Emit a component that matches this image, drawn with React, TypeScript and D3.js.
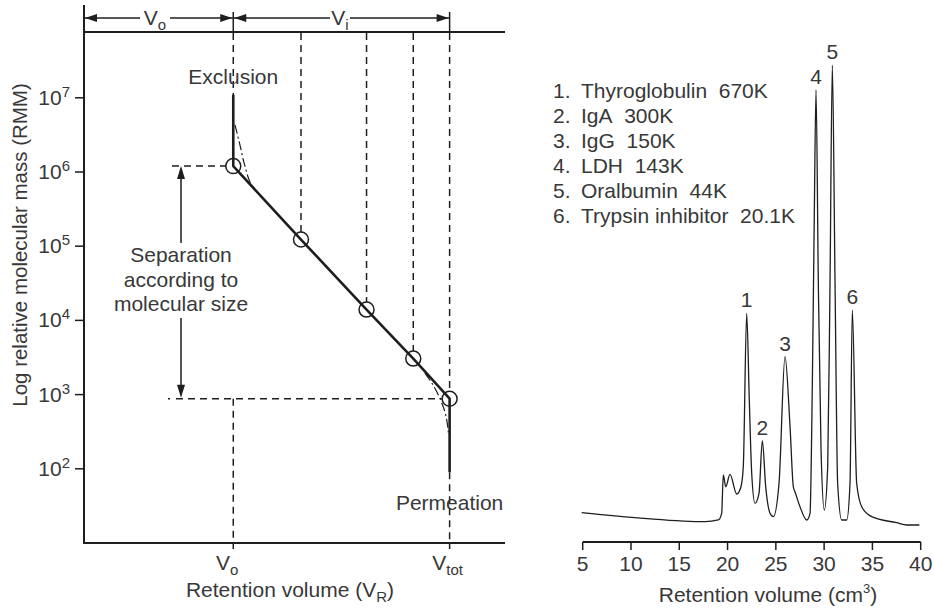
import * as d3 from "d3";

// ---- left panel: calibration curve (log RMM vs retention volume) ----
const massExponents = [2, 3, 4, 5, 6, 7];
// retention position as Kav: 0 = Vo, 1 = Vtot
const standardKav = [0, 0.313, 0.616, 0.832, 1.0];
const standardMass = [1.2e6, 1.23e5, 1.4e4, 3.06e3, 8.8e2];
const exclusionMass = 1.1e7;
const permeationMass = 90;
const upperBendKav = [0.008, 0.031, 0.054, 0.086, 0.14];
const upperBendMass = [4.3e6, 2.3e6, 1.2e6, 6.6e5, 4.3e5];
const lowerBendKav = [0.886, 0.923, 0.955, 0.979, 0.994];
const lowerBendMass = [1.95e3, 1.35e3, 890, 575, 310];
const separationText = ["Separation", "according to", "molecular size"];

// ---- right panel: chromatogram ----
const proteins = [
  "Thyroglobulin  670K",
  "IgA  300K",
  "IgG  150K",
  "LDH  143K",
  "Oralbumin  44K",
  "Trypsin inhibitor  20.1K",
];
const peakVolume = [21.98, 23.6, 25.95, 29.16, 30.85, 32.92];
const peakHeight = [46.1, 19.0, 36.9, 93.6, 98.9, 46.8];
const volumeTicks = [5, 10, 15, 20, 25, 30, 35, 40];
const traceVolume = [
  4.9, 11.28, 17.66, 19.04, 19.39, 19.56, 19.81, 20.25, 20.95, 21.39, 21.63,
  21.98, 22.25, 22.5, 22.84, 23.26, 23.6, 23.95, 24.4, 24.74, 25.33, 25.95,
  26.47, 26.81, 26.98, 27.5, 28.2, 28.54, 28.78, 28.98, 29.16, 29.4, 29.68,
  30.02, 30.37, 30.61, 30.85, 31.13, 31.4, 31.82, 32.34, 32.68, 32.92, 33.37,
  33.89, 34.93, 37.5, 38.55, 39.86,
];
const traceSignal = [
  3.7, 2.49, 1.77, 2.13, 3.55, 11.7, 9.2, 11.85, 7.66, 9.2, 13.5, 46.1, 27.7,
  12.06, 5.68, 7.87, 19.0, 9.2, 3.55, 2.83, 9.94, 36.9, 22.0, 9.2, 8.15, 4.96,
  2.13, 3.55, 31.2, 66.7, 93.6, 52.5, 17.0, 4.26, 13.5, 52.5, 98.9, 52.5, 9.94,
  2.13, 2.13, 9.94, 46.8, 9.94, 4.96, 2.83, 1.55, 1.06, 1.06,
];

const FONT = "'Liberation Sans', Arial, Helvetica, sans-serif";
const FS = 21;
const TEXT = "#383838";
const INK = "#1e1e1e";

// filled arrow head, tip at (x,y), pointing in direction dir
const arrowHead = (x: number, y: number, dir: "up" | "down" | "left" | "right", len = 12, half = 4) => {
  let pts: [number, number][] = [];
  if (dir === "left") pts = [[x, y], [x + len, y - half], [x + len, y + half]];
  if (dir === "right") pts = [[x, y], [x - len, y - half], [x - len, y + half]];
  if (dir === "up") pts = [[x, y], [x - half, y + len], [x + half, y + len]];
  if (dir === "down") pts = [[x, y], [x - half, y - len], [x + half, y - len]];
  return <polygon points={pts.map((p) => p.join(",")).join(" ")} fill={INK} />;
};

const LeftPanel = () => {
  const left = 84;
  const right = 505;
  const top = 32;
  const bottom = 543;

  const x = d3.scaleLinear().domain([-0.69, 1.256]).range([left, right]);
  const y = d3.scaleLog().domain([10, 7.7e7]).range([bottom, top]);

  const xo = x(0);
  const xt = x(1);
  const r = 7.5;
  const dash = "7 5";

  const line = d3
    .line<[number, number]>()
    .x((d) => x(d[0]))
    .y((d) => y(d[1]));
  const bend = d3
    .line<[number, number]>()
    .x((d) => x(d[0]))
    .y((d) => y(d[1]))
    .curve(d3.curveMonotoneY);

  const mainPts: [number, number][] = [
    [0, exclusionMass],
    ...standardKav.map((k, i) => [k, standardMass[i]] as [number, number]),
    [1, permeationMass],
  ];
  const upper = upperBendKav.map((k, i) => [k, upperBendMass[i]] as [number, number]);
  const lower = lowerBendKav.map((k, i) => [k, lowerBendMass[i]] as [number, number]);

  const yFirst = y(standardMass[0]);
  const yLast = y(standardMass[standardMass.length - 1]);
  const arrowX = 181;
  const bracketY = 18;

  return (
    <g fontFamily={FONT} fill={TEXT}>
      {/* frame */}
      <line x1={left} x2={left} y1={5} y2={bottom + 1} stroke={INK} strokeWidth={2} />
      <line x1={left} x2={right} y1={top} y2={top} stroke={INK} strokeWidth={2} />
      <line x1={left - 1} x2={right} y1={bottom} y2={bottom} stroke={INK} strokeWidth={2} />

      {/* y ticks */}
      {massExponents.map((e) => (
        <g key={e}>
          <line x1={left - 9} x2={left} y1={y(10 ** e)} y2={y(10 ** e)} stroke={INK} strokeWidth={1.5} />
          <text x={left - 14} y={y(10 ** e) + 7} textAnchor="end" fontSize={FS}>
            10<tspan fontSize={15} dy={-8}>{e}</tspan>
          </text>
        </g>
      ))}
      <text transform={`translate(27,${245}) rotate(-90)`} textAnchor="middle" fontSize={FS - 0.5}>
        Log relative molecular mass (RMM)
      </text>

      {/* x ticks */}
      {[xo, xt].map((v, i) => (
        <line key={i} x1={v} x2={v} y1={bottom} y2={bottom + 6} stroke={INK} strokeWidth={1.5} />
      ))}
      <text x={xo - 6} y={570} textAnchor="middle" fontSize={FS}>
        V<tspan fontSize={15} dy={5}>o</tspan>
      </text>
      <text x={xt - 2} y={570} textAnchor="middle" fontSize={FS}>
        V<tspan fontSize={15} dy={5}>tot</tspan>
      </text>
      <text x={290} y={597} textAnchor="middle" fontSize={FS}>
        Retention volume (V<tspan fontSize={15} dy={5}>R</tspan>
        <tspan dy={-5}>)</tspan>
      </text>

      {/* top bracket: Vo and Vi */}
      <line x1={xo} x2={xo} y1={12} y2={top} stroke={INK} strokeWidth={1.5} />
      <line x1={xt} x2={xt} y1={12} y2={top} stroke={INK} strokeWidth={1.5} />
      <line x1={left} x2={140} y1={bracketY} y2={bracketY} stroke={INK} strokeWidth={1.3} />
      <line x1={170} x2={xo} y1={bracketY} y2={bracketY} stroke={INK} strokeWidth={1.3} />
      {arrowHead(left + 1, bracketY, "left")}
      {arrowHead(xo - 1, bracketY, "right")}
      <text x={155} y={bracketY + 7} textAnchor="middle" fontSize={FS}>
        V<tspan fontSize={15} dy={5}>o</tspan>
      </text>
      <line x1={xo} x2={330} y1={bracketY} y2={bracketY} stroke={INK} strokeWidth={1.3} />
      <line x1={350} x2={xt} y1={bracketY} y2={bracketY} stroke={INK} strokeWidth={1.3} />
      {arrowHead(xo + 1, bracketY, "left")}
      {arrowHead(xt - 1, bracketY, "right")}
      <text x={340} y={bracketY + 7} textAnchor="middle" fontSize={FS}>
        V<tspan fontSize={15} dy={5}>i</tspan>
      </text>

      {/* dashed drop lines from each standard */}
      {standardKav.map((k, i) => (
        <line
          key={i}
          x1={x(k)}
          x2={x(k)}
          y1={top + 1}
          y2={y(standardMass[i]) - r}
          stroke={INK}
          strokeWidth={1.5}
          strokeDasharray={dash}
        />
      ))}
      <line x1={xo} x2={xo} y1={yLast} y2={bottom} stroke={INK} strokeWidth={1.5} strokeDasharray={dash} />
      <line x1={xt} x2={xt} y1={y(permeationMass)} y2={bottom} stroke={INK} strokeWidth={1.5} strokeDasharray={dash} />
      <line x1={172} x2={xo - r} y1={yFirst} y2={yFirst} stroke={INK} strokeWidth={1.5} strokeDasharray={dash} />
      <line x1={168} x2={170} y1={yLast} y2={yLast} stroke={INK} strokeWidth={1.5} />
      <line x1={176} x2={xt - r} y1={yLast} y2={yLast} stroke={INK} strokeWidth={1.5} strokeDasharray={dash} />

      {/* separation arrow */}
      <line x1={arrowX} x2={arrowX} y1={yFirst + 8} y2={243} stroke={INK} strokeWidth={1.5} />
      <line x1={arrowX} x2={arrowX} y1={318} y2={yLast - 8} stroke={INK} strokeWidth={1.5} />
      {arrowHead(arrowX, yFirst, "up", 13, 4)}
      {arrowHead(arrowX, yLast - 1, "down", 13, 4)}
      {separationText.map((t, i) => (
        <text key={t} x={arrowX} y={262 + i * 24.5} textAnchor="middle" fontSize={FS}>
          {t}
        </text>
      ))}

      {/* calibration curve */}
      <path d={bend(upper) ?? ""} fill="none" stroke={INK} strokeWidth={1.2} strokeDasharray="9 3 2 3" />
      <path d={bend(lower) ?? ""} fill="none" stroke={INK} strokeWidth={1.2} strokeDasharray="9 3 2 3" />
      <path d={line(mainPts) ?? ""} fill="none" stroke={INK} strokeWidth={2.6} strokeLinejoin="round" />
      {standardKav.map((k, i) => (
        <circle key={i} cx={x(k)} cy={y(standardMass[i])} r={r} fill="none" stroke={INK} strokeWidth={1.5} />
      ))}

      <text x={xo} y={84} textAnchor="middle" fontSize={FS}>
        Exclusion
      </text>
      <text x={xt} y={510} textAnchor="middle" fontSize={FS}>
        Permeation
      </text>
    </g>
  );
};

const RightPanel = () => {
  const x = d3.scaleLinear().domain([5, 40]).range([582.7, 920.7]);
  const y = d3.scaleLinear().domain([0, 100]).range([530, 60]);
  const axisY = 542;

  const trace = d3
    .line<number>()
    .x((d, i) => x(traceVolume[i]))
    .y((d) => y(d))
    .curve(d3.curveMonotoneX);

  return (
    <g fontFamily={FONT} fill={TEXT}>
      {proteins.map((p, i) => (
        <g key={p} fontSize={FS}>
          <text x={553} y={98 + i * 25}>{`${i + 1}.`}</text>
          <text x={581} y={98 + i * 25}>
            {p.replace(/ /g, "\u00a0")}
          </text>
        </g>
      ))}

      <path d={trace(traceSignal) ?? ""} fill="none" stroke={INK} strokeWidth={1.3} strokeLinejoin="round" />

      {peakVolume.map((v, i) => (
        <text key={i} x={x(v)} y={y(peakHeight[i]) - 6} textAnchor="middle" fontSize={FS}>
          {i + 1}
        </text>
      ))}

      <line x1={x(5)} x2={x(40)} y1={axisY} y2={axisY} stroke={INK} strokeWidth={1.8} />
      {volumeTicks.map((t) => (
        <g key={t}>
          <line x1={x(t)} x2={x(t)} y1={axisY} y2={axisY + 8} stroke={INK} strokeWidth={1.5} />
          <text x={x(t)} y={571} textAnchor="middle" fontSize={FS}>
            {t}
          </text>
        </g>
      ))}
      <text x={768} y={602} textAnchor="middle" fontSize={FS}>
        Retention volume (cm<tspan fontSize={13} dy={-9}>3</tspan>
        <tspan dy={9}>)</tspan>
      </text>
    </g>
  );
};

export default function App() {
  return (
    <svg width={934} height={608} style={{ position: "absolute", left: 0, top: 0, background: "#fff" }}>
      <LeftPanel />
      <RightPanel />
    </svg>
  );
}
